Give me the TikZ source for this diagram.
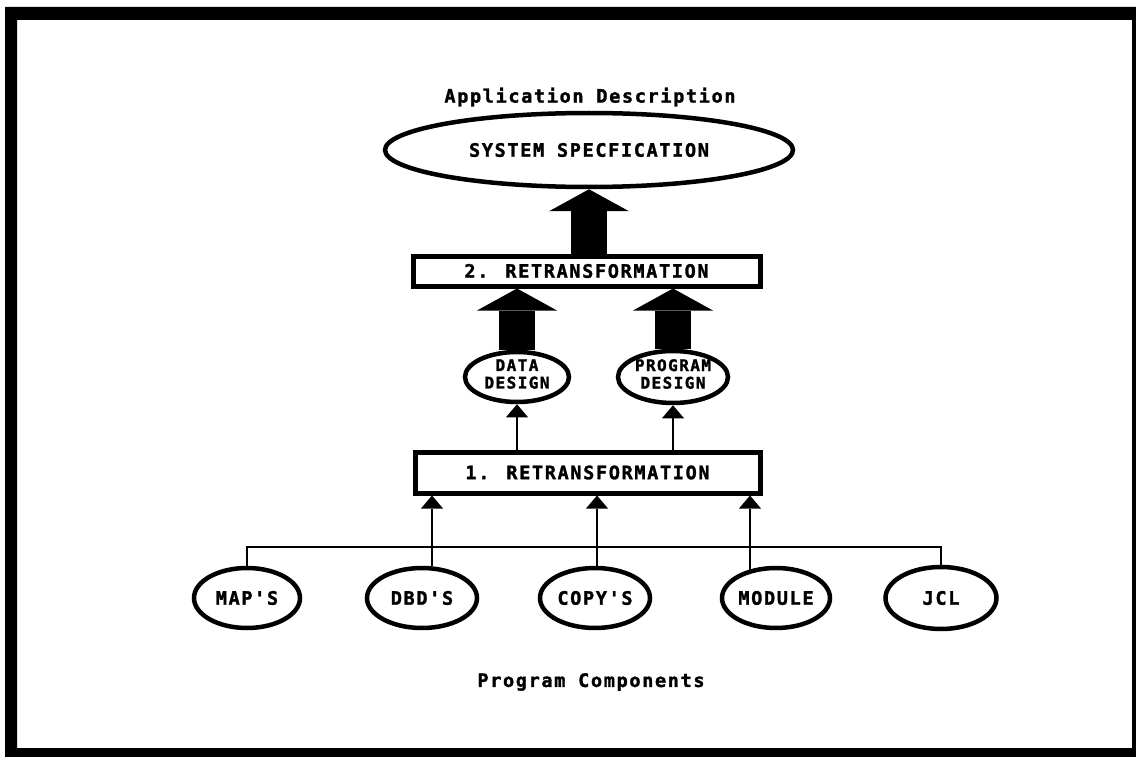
\documentclass[tikz,border=0pt]{standalone}
\usepackage{fontspec}
\newfontfamily\dmono{DejaVu Sans Mono}[LetterSpace=9, BoldFeatures={FakeBold=1.6}]
\usetikzlibrary{shapes.geometric,arrows.meta,calc}
\newcommand{\ctr}[1]{\makebox[0pt]{#1}}
\begin{document}
\begin{tikzpicture}[x=1pt,y=-1pt,
  lbl/.style={font=\dmono\bfseries\fontsize{18.5}{16}\selectfont, inner sep=0pt},
  small/.style={font=\dmono\bfseries\fontsize{16}{17.5}\selectfont, inner sep=0pt, align=center},
  oval/.style={ellipse, draw, line width=4.5pt, inner sep=0pt, lbl},
  stage/.style={rectangle, draw, line width=5pt, inner sep=0pt, lbl},
  wire/.style={line width=1.8pt},
  tarrow/.style={line width=1.8pt, -{Triangle[width=22pt,length=13pt,line width=0pt]}},
  bigarrow/.style={line width=36pt, -{Triangle[width=80pt,length=22pt,line width=0pt]}}]
\useasboundingbox (0,0) rectangle (1136,757);
% page frame
\fill[even odd rule] (5,7) rectangle (1136,757) (17,20) rectangle (1132,748);

% upper part
\node[lbl] (title) at (590,97) {Application Description};
\node[oval, minimum width=408pt, minimum height=74pt] (spec) at (589,150) {SYSTEM SPECFICATION};
\node[stage, minimum width=347pt, minimum height=30pt] (ret2) at (586.5,271) {2. RETRANSFORMATION};

% design ovals
\node[oval, minimum width=104pt, minimum height=50pt] (data) at (517,377) {};
\node[small] (datatxt) at (517,374) {DATA\\DESIGN};
\node[oval, minimum width=110pt, minimum height=52pt] (prog) at (673,377) {};
\node[small] (progtxt) at (673,374) {PROGRAM\\DESIGN};

\node[stage, minimum width=345pt, minimum height=41pt] (ret1) at (587.5,472.5) {1. RETRANSFORMATION};

% program components
\node[oval, minimum width=106pt, minimum height=60pt] (map) at (247,598) {\ctr{MAP'S}};
\node[oval, minimum width=110pt, minimum height=60pt] (dbd) at (422,598) {\ctr{DBD'S}};
\node[oval, minimum width=110pt, minimum height=60pt] (copy) at (595,598) {\ctr{COPY'S}};
\node[oval, minimum width=108pt, minimum height=60pt] (mod) at (776,598) {\ctr{MODULE}};
\node[oval, minimum width=111pt, minimum height=62pt] (jcl) at (941,598) {\ctr{JCL}};
\node[lbl] (foot) at (591,682) {Program Components};

% block arrows
\draw[bigarrow] (spec.south |- ret2.north) -- (spec.south);
\draw[bigarrow] (data.north) -- (data.north |- ret2.south);
\draw[bigarrow] (prog.north) -- (prog.north |- ret2.south);

% thin arrows from stage 1
\draw[tarrow] (data.south |- ret1.north) -- (data.south);
\draw[tarrow] (prog.south |- ret1.north) -- (prog.south);

% collecting line
\coordinate (bus) at (0,547);
\coordinate (j2) at (432,547);
\coordinate (j3) at (597,547);
\coordinate (j4) at (750,547);
\draw[wire] (map.north) -- (map.north |- bus) -- (jcl.north |- bus) -- (jcl.north);
\draw[wire] (j2) -- (j2 |- dbd.north);
\draw[wire] (j3) -- (j3 |- copy.north);
\draw[wire] (j4) -- (j4 |- mod.135);
\draw[tarrow] (j2) -- (j2 |- ret1.south);
\draw[tarrow] (j3) -- (j3 |- ret1.south);
\draw[tarrow] (j4) -- (j4 |- ret1.south);
\end{tikzpicture}
\end{document}
